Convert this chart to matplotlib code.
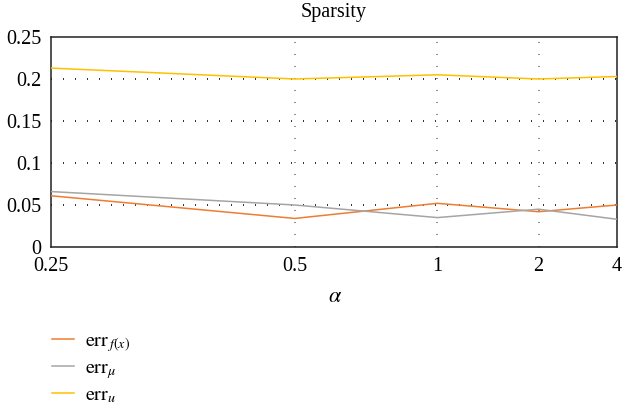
import numpy as np
import matplotlib
matplotlib.use("Agg")
import matplotlib.pyplot as plt
from matplotlib.ticker import FixedLocator, FixedFormatter, NullLocator

plt.rcParams['font.family'] = ['Liberation Serif', 'DejaVu Serif']
plt.rcParams['mathtext.fontset'] = 'stix'

alpha_labels = ['0.25', '0.5', '1', '2', '4']
err_fx = [0.061, 0.034, 0.052, 0.042, 0.050]
err_mu = [0.066, 0.050, 0.035, 0.045, 0.033]
err_u = [0.213, 0.200, 0.205, 0.200, 0.203]
y_ticks = [0, 0.05, 0.1, 0.15, 0.2, 0.25]
y_labels = ['0', '0.05', '0.1', '0.15', '0.2', '0.25']

c_fx = '#ED7D31'
c_mu = '#A5A5A5'
c_u = '#FFC000'

xpos = np.arange(1, len(alpha_labels) + 1)

fig = plt.figure(figsize=(6.23, 4.09), dpi=100)
ax = fig.add_axes([51/623, 1-247/409, (617-51)/623, (247-37)/409])

ax.set_xscale('log')
ax.set_xlim(xpos[0], xpos[-1])
ax.set_ylim(0, 0.25)

# grid
for yv in y_ticks[1:-1]:
    ax.axhline(yv, color='#111111', lw=1.2, ls=(0, (0.6, 6.6)), zorder=1)
for xv in xpos[1:-1]:
    ax.axvline(xv, color='#777777', lw=1.2, ls=(0, (0.6, 6.6)), zorder=1)

l1, = ax.plot(xpos, err_fx, color=c_fx, lw=1.1, zorder=3, label=r'$\mathrm{err}_{\,f(x)}$')
l2, = ax.plot(xpos, err_mu, color=c_mu, lw=1.1, zorder=3, label=r'$\mathrm{err}_{\mu}$')
l3, = ax.plot(xpos, err_u, color=c_u, lw=1.1, zorder=3, label=r'$\mathrm{err}_{u}$')

ax.xaxis.set_major_locator(FixedLocator(xpos))
ax.xaxis.set_major_formatter(FixedFormatter(alpha_labels))
ax.xaxis.set_minor_locator(NullLocator())
ax.set_yticks(y_ticks)
ax.set_yticklabels(y_labels)
ax.tick_params(length=0, labelsize=14.5)
ax.tick_params(axis='x', pad=7)
ax.tick_params(axis='y', pad=7)
for s in ax.spines.values():
    s.set_linewidth(1.1)
    s.set_color('#222222')

fig.text(334/623, 1-12/409, 'Sparsity', ha='center', va='center', fontsize=14.5)
fig.text(335/623, 1-298/409, r'$\alpha$', ha='center', va='center', fontsize=16)

fig.legend(handles=[l1, l2, l3], loc='upper left', bbox_to_anchor=(38/623, 1-318/409),
           frameon=False, fontsize=14.5, handlelength=1.1, handletextpad=0.55,
           labelspacing=0.25, borderpad=0.2)

fig.savefig('out.png', dpi=100)
